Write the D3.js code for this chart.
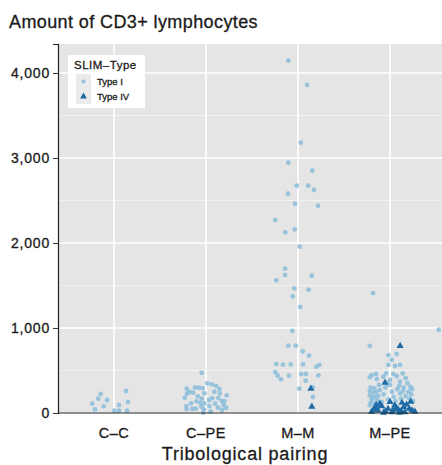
<!DOCTYPE html>
<html>
<head>
<meta charset="utf-8">
<script src="https://cdn.jsdelivr.net/npm/d3@7"></script>
<style>
  body { margin: 0; background: #fff; }
  text { font-family: "Liberation Sans", Arial, sans-serif; stroke: #1a1a1a; stroke-width: 0.3px; }
</style>
</head>
<body>
<script>
// categories on the x axis
var pairings = ["C\u2013C", "C\u2013PE", "M\u2013M", "M\u2013PE"];
var yTicks = [0, 1000, 2000, 3000, 4000];
var types = ["Type I", "Type IV"];

// each point: [jitter (in category units), CD3+ count]
var ccTypeI = [[-0.145,224],[-0.171,169],[-0.076,153],[-0.236,110],[-0.112,78],[-0.207,43],
  [0.13,259],[0.152,129],[0.054,94],[0.003,27],[0.054,27],[0.141,27]];

var cpeTypeI = [[-0.047,471],[0.014,349],[-0.076,298],[-0.036,290],[0.062,337],[0.109,318],
  [0.145,282],[-0.21,286],[-0.182,247],[-0.207,227],[-0.141,239],[-0.018,231],[-0.09,196],
  [-0.047,169],[0.068,173],[0.134,176],[0.225,208],[0.171,141],[-0.105,137],[-0.065,121],
  [-0.018,113],[0.033,153],[-0.163,113],[-0.214,82],[-0.21,43],[-0.149,47],[-0.112,51],
  [-0.022,43],[0.036,82],[0.13,62],[0.174,35],[0.192,94],[-0.029,4],[0.09,250],[0.2,140],
  [-0.23,180],[0.05,20],[0.22,60],[-0.12,300],[0.15,230],[-0.05,75],[0.1,110]];

var mmTypeI = [[-0.105,4145],[0.098,3859],[0.03,3180],[-0.105,2945],[0.155,2851],[-0.014,2674],
  [0.112,2674],[0.174,2624],[-0.109,2580],[-0.033,2462],[0.217,2439],[-0.247,2270],
  [-0.036,2160],[-0.138,2125],[0.018,1957],[-0.141,1698],[-0.141,1624],[0.149,1615],
  [-0.236,1561],[-0.04,1467],[0.116,1451],[-0.058,1373],[0.025,1247],[-0.062,965],
  [-0.105,792],[-0.025,792],[0.051,725],[0.12,674],[-0.236,576],[-0.163,569],[-0.079,572],
  [0.054,572],[0.199,545],[0.232,565],[-0.247,482],[-0.221,439],[-0.185,396],[-0.098,439],
  [0.036,459],[0.087,459],[0.221,443],[0.084,380],[0.014,286],[0.16,302],[0.16,188]];
var mmTypeIV = [[0.14,286],[0.15,74]];

var mpeTypeI = [[-0.185,1410],[0.53,980],[-0.22,790],[-0.018,682],[0.073,694],[0.018,624],
  [-0.018,565],[0.054,553],[0.109,565],[-0.2,447],[-0.152,459],[-0.073,427],[-0.043,467],
  [0.036,459],[0.073,435],[0.138,467],[-0.145,400],[0,388],[0.109,368],[-0.22,420],[0.17,410],
  [0.22,310],[0.24,280],[0.2,250],[0.23,220],[0.17,200],[0.21,170],[0.25,140],[0.15,300],
  [-0.21,300],[-0.17,290],[-0.22,260],[-0.18,240],[-0.15,250],[-0.22,210],[-0.16,190],
  [-0.2,160],[-0.14,150],[-0.21,120],[-0.17,110],[-0.13,200],[-0.11,270],[-0.19,180],
  [-0.22,90],[-0.15,60],[-0.05,300],[0.02,250],[0.08,280],[-0.07,220],[0.04,190],[0.11,230],
  [-0.02,160],[0.06,140],[0.12,170],[-0.09,130],[0,330],[0.1,320],[-0.03,350],[0.14,260],
  [0.19,350],[-0.12,330]];
var mpeTypeIV = [[0.11,790],[-0.054,357],[0.225,133],[0.27,15],[-0.16,60],[-0.13,30],[-0.09,80],
  [-0.05,20],[-0.02,50],[0.02,10],[0.05,90],[0.09,40],[0.12,25],[0.15,70],[0.18,100],
  [-0.2,15],[-0.11,110],[0,130],[0.07,60],[0.13,120],[-0.15,95],[0.03,30],[0.1,5],
  [-0.07,5],[0.16,10],[0.21,50],[-0.18,40],[0.24,30]];

var colors = {"Type I": "#8ebfdc", "Type IV": "#1d6aa5"};

var width = 442, height = 465;
var margin = {top: 44, right: 0, bottom: 52, left: 58};

var svg = d3.select("body").append("svg")
    .attr("width", width)
    .attr("height", height);

// category index 1..4, ggplot style expansion of 0.6 on the left
var x = d3.scaleLinear()
    .domain([0.391, 4.565])
    .range([margin.left, width - margin.right]);
var y = d3.scaleLinear()
    .domain([0, 4341])
    .range([height - margin.bottom, margin.top]);

// title
svg.append("text")
    .attr("x", 9).attr("y", 28)
    .attr("font-size", 18).attr("letter-spacing", 0.4).attr("fill", "#1a1a1a")
    .text("Amount of CD3+ lymphocytes");

// panel
svg.append("rect")
    .attr("x", margin.left).attr("y", margin.top)
    .attr("width", width - margin.left - margin.right)
    .attr("height", height - margin.top - margin.bottom)
    .attr("fill", "#e5e5e5");

// minor gridlines
svg.selectAll(".minor")
    .data([500, 1500, 2500, 3500])
    .enter().append("line")
    .attr("x1", margin.left).attr("x2", width - margin.right)
    .attr("y1", d => y(d)).attr("y2", d => y(d))
    .attr("stroke", "#f4f4f4").attr("stroke-width", 0.8);

// major gridlines
svg.selectAll(".major")
    .data(yTicks)
    .enter().append("line")
    .attr("x1", margin.left).attr("x2", width - margin.right)
    .attr("y1", d => y(d)).attr("y2", d => y(d))
    .attr("stroke", "#fff").attr("stroke-width", 1.6);

svg.selectAll(".vgrid")
    .data(pairings)
    .enter().append("line")
    .attr("x1", (d, i) => x(i + 1)).attr("x2", (d, i) => x(i + 1))
    .attr("y1", margin.top).attr("y2", height - margin.bottom)
    .attr("stroke", "#fff").attr("stroke-width", 1.6);

// points
function addPoints(arr, cat, type) {
    var g = svg.append("g");
    if (type === "Type I") {
        g.selectAll("circle")
            .data(arr)
            .enter().append("circle")
            .attr("cx", d => x(cat + d[0]))
            .attr("cy", d => y(d[1]))
            .attr("r", 2.4)
            .attr("fill", colors[type])
            .attr("opacity", 0.9);
    } else {
        g.selectAll("path")
            .data(arr)
            .enter().append("path")
            .attr("d", d3.symbol().type(d3.symbolTriangle).size(22))
            .attr("transform", d => "translate(" + x(cat + d[0]) + "," + y(d[1]) + ")")
            .attr("fill", colors[type]);
    }
}
addPoints(ccTypeI, 1, "Type I");
addPoints(cpeTypeI, 2, "Type I");
addPoints(mmTypeI, 3, "Type I");
addPoints(mpeTypeI, 4, "Type I");
addPoints(mmTypeIV, 3, "Type IV");
addPoints(mpeTypeIV, 4, "Type IV");

// axes
var yAxis = svg.append("g")
    .attr("transform", "translate(" + margin.left + ",0)")
    .call(d3.axisLeft(y).tickValues(yTicks).tickFormat(d3.format(",")).tickSize(5).tickPadding(4));
yAxis.select(".domain").attr("stroke", "#222").attr("stroke-width", 1.2);
yAxis.selectAll(".tick line").attr("stroke", "#333");
yAxis.selectAll("text").attr("font-size", 14).attr("letter-spacing", 0.8).attr("fill", "#1a1a1a")
    .attr("dx", 1)
    .style("font-family", "'Liberation Sans', Arial, sans-serif");

svg.append("line")
    .attr("x1", margin.left).attr("x2", width)
    .attr("y1", y(0)).attr("y2", y(0))
    .attr("stroke", "#222").attr("stroke-width", 1.2);

svg.selectAll(".xlab")
    .data(pairings)
    .enter().append("text")
    .attr("x", (d, i) => x(i + 1))
    .attr("y", 438)
    .attr("text-anchor", "middle")
    .attr("font-size", 14.5).attr("letter-spacing", 0.5).attr("fill", "#1a1a1a")
    .text(d => d);

svg.append("text")
    .attr("x", 245).attr("y", 460)
    .attr("text-anchor", "middle")
    .attr("font-size", 18).attr("letter-spacing", 0.8).attr("fill", "#1a1a1a")
    .text("Tribological pairing");

// legend
var legend = svg.append("g").attr("transform", "translate(68,55)");
legend.append("rect")
    .attr("width", 77).attr("height", 53)
    .attr("fill", "#fff");
legend.append("text")
    .attr("x", 6).attr("y", 14)
    .attr("font-size", 11.5).attr("letter-spacing", 0.5).attr("fill", "#1a1a1a")
    .text("SLIM\u2013Type");
types.forEach(function(t, i) {
    var ky = 19 + i * 15;
    legend.append("rect")
        .attr("x", 8).attr("y", ky)
        .attr("width", 15).attr("height", 15)
        .attr("fill", "#ebebeb");
    if (t === "Type I") {
        legend.append("circle")
            .attr("cx", 15.5).attr("cy", ky + 7.5).attr("r", 2)
            .attr("fill", colors[t]);
    } else {
        legend.append("path")
            .attr("d", d3.symbol().type(d3.symbolTriangle).size(20))
            .attr("transform", "translate(15.5," + (ky + 7.5) + ")")
            .attr("fill", colors[t]);
    }
    legend.append("text")
        .attr("x", 29).attr("y", ky + 11)
        .attr("font-size", 9.5).attr("fill", "#1a1a1a")
        .text(t);
});
</script>
</body>
</html>
